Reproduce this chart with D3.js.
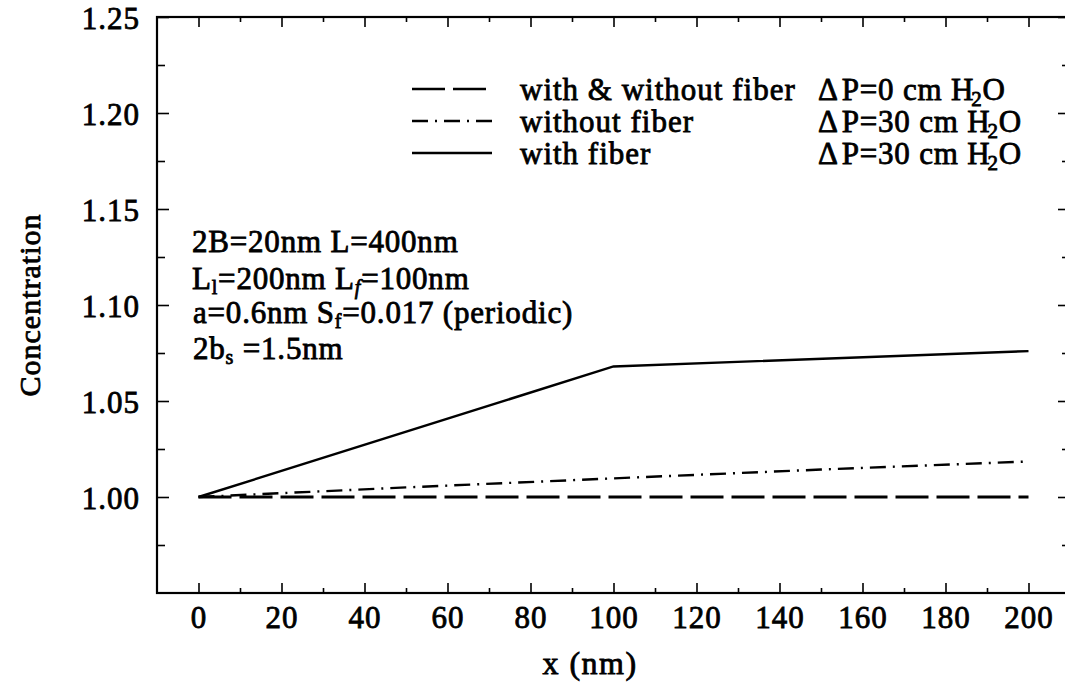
<!DOCTYPE html>
<html>
<head>
<meta charset="utf-8">
<script src="https://cdn.jsdelivr.net/npm/d3@7"></script>
<style>
  body { margin: 0; background: #fff; }
  svg text {
    font-family: "Liberation Serif", "Times New Roman", serif;
    fill: #000;
    stroke: #000;
    stroke-width: 0.8px;
  }
</style>
</head>
<body>
<svg id="chart" width="1065" height="685"></svg>
<script>
// ---- data ----
const xMajorTicks = [0, 20, 40, 60, 80, 100, 120, 140, 160, 180, 200];
const xMinorTicks = [10, 30, 50, 70, 90, 110, 130, 150, 170, 190];
const yMajorTicks = [1.00, 1.05, 1.10, 1.15, 1.20, 1.25];
const yMinorTicks = [0.975, 1.025, 1.075, 1.125, 1.175, 1.225];

// dP = 0 cm H2O, with and without fiber
const xBoth = [0, 200];
const cBoth = [1.000, 1.000];
// dP = 30 cm H2O, without fiber
const xNoFiber = [0, 50, 100, 150, 200];
const cNoFiber = [1.000, 1.005, 1.0097, 1.0143, 1.0185];
// dP = 30 cm H2O, with fiber
const xFiber = [0, 100, 200];
const cFiber = [1.000, 1.068, 1.076];

const legendLabels = ["with & without fiber", "without fiber", "with fiber"];
const legendPressure = [0, 30, 30];
const legendDash = ["33,8", "16,7,2,7", null];

// ---- layout ----
const svg = d3.select("#chart");
const plotL = 157, plotR = 1070, plotT = 17, plotB = 593;

const x = d3.scaleLinear().domain([-10, 210]).range([plotL, plotR]);
const y = d3.scaleLinear().domain([0.95, 1.25]).range([plotB, plotT]);

const FONT = 31;

// frame
svg.append("rect")
  .attr("x", plotL).attr("y", plotT)
  .attr("width", plotR - plotL).attr("height", plotB - plotT)
  .attr("fill", "none").attr("stroke", "#000").attr("stroke-width", 2.2);

function clean(g) {
  g.select(".domain").remove();
  g.selectAll(".tick line").attr("stroke", "#000").attr("stroke-width", 1.6);
}

// bottom axis with labels, ticks pointing inward
const gxb = svg.append("g").attr("transform", `translate(0,${plotB})`)
  .call(d3.axisBottom(x).tickValues(xMajorTicks).tickSize(-10).tickFormat(d3.format("d")))
  .call(clean);
gxb.selectAll("text")
  .attr("y", 35).attr("dy", null)
  .style("font-size", FONT + "px")
  .style("letter-spacing", "1px");
svg.append("g").attr("transform", `translate(0,${plotB})`)
  .call(d3.axisBottom(x).tickValues(xMinorTicks).tickSize(-5).tickFormat(""))
  .call(clean);

// top axis ticks
svg.append("g").attr("transform", `translate(0,${plotT})`)
  .call(d3.axisTop(x).tickValues(xMajorTicks).tickSize(-10).tickFormat(""))
  .call(clean);
svg.append("g").attr("transform", `translate(0,${plotT})`)
  .call(d3.axisTop(x).tickValues(xMinorTicks).tickSize(-5).tickFormat(""))
  .call(clean);

// left axis with labels
const gyl = svg.append("g").attr("transform", `translate(${plotL},0)`)
  .call(d3.axisLeft(y).tickValues(yMajorTicks).tickSize(-12).tickFormat(d3.format(".2f")))
  .call(clean);
gyl.selectAll("text")
  .attr("x", -17).attr("dy", "0.38em")
  .style("font-size", FONT + "px")
  .style("letter-spacing", "1px");
svg.append("g").attr("transform", `translate(${plotL},0)`)
  .call(d3.axisLeft(y).tickValues(yMinorTicks).tickSize(-8).tickFormat(""))
  .call(clean);

// right axis ticks
svg.append("g").attr("transform", `translate(${plotR},0)`)
  .call(d3.axisRight(y).tickValues(yMajorTicks).tickSize(-12).tickFormat(""))
  .call(clean);
svg.append("g").attr("transform", `translate(${plotR},0)`)
  .call(d3.axisRight(y).tickValues(yMinorTicks).tickSize(-8).tickFormat(""))
  .call(clean);

// axis titles
svg.append("text")
  .attr("x", 590).attr("y", 674)
  .attr("text-anchor", "middle")
  .style("font-size", "32px").style("letter-spacing", "1.5px")
  .text("x (nm)");
svg.append("text")
  .attr("transform", "translate(40,305) rotate(-90)")
  .attr("text-anchor", "middle")
  .style("font-size", "30px").style("letter-spacing", "1px")
  .text("Concentration");

// ---- curves ----
const line = d3.line().x(d => x(d[0])).y(d => y(d[1]));
const series = [
  { xs: xBoth, cs: cBoth, dash: legendDash[0], w: 2.8 },
  { xs: xNoFiber, cs: cNoFiber, dash: legendDash[1], w: 2.4 },
  { xs: xFiber, cs: cFiber, dash: legendDash[2], w: 2.4 }
];
series.forEach(s => {
  svg.append("path")
    .datum(s.xs.map((v, i) => [v, s.cs[i]]))
    .attr("d", line)
    .attr("fill", "none")
    .attr("stroke", "#000")
    .attr("stroke-width", s.w)
    .attr("stroke-dasharray", s.dash);
});

// ---- legend ----
const legRowY = [100, 132, 164];
legendLabels.forEach((lab, i) => {
  const by = legRowY[i];
  svg.append("line")
    .attr("x1", 412).attr("x2", i === 0 ? 486 : 492)
    .attr("y1", by - 11).attr("y2", by - 11)
    .attr("stroke", "#000").attr("stroke-width", 2.4)
    .attr("stroke-dasharray", legendDash[i]);
  svg.append("text")
    .attr("x", 520).attr("y", by)
    .style("font-size", FONT + "px").style("letter-spacing", "1px")
    .text(lab);
  const t = svg.append("text")
    .attr("x", 818).attr("y", by)
    .style("font-size", FONT + "px").style("letter-spacing", "0.8px");
  t.append("tspan").text("\u0394");
  t.append("tspan").attr("dx", 3).text(`P=${legendPressure[i]} cm H`);
  t.append("tspan").attr("dx", -3).attr("dy", 6).style("font-size", "21px").text("2");
  t.append("tspan").attr("dx", 0).attr("dy", -6).text("O");
});

// ---- parameter notes ----
const notes = svg.append("g").style("font-size", FONT + "px").style("letter-spacing", "0.8px");
notes.append("text").attr("x", 192).attr("y", 252).text("2B=20nm L=400nm");

const n2 = notes.append("text").attr("x", 192).attr("y", 289);
n2.append("tspan").text("L");
n2.append("tspan").attr("dy", 5).style("font-size", "20px").text("l");
n2.append("tspan").attr("dy", -5).text("=200nm L");
n2.append("tspan").attr("dy", 5).style("font-size", "20px").style("font-style", "italic").text("f");
n2.append("tspan").attr("dy", -5).text("=100nm");

const n3 = notes.append("text").attr("x", 193).attr("y", 323);
n3.append("tspan").text("a=0.6nm S");
n3.append("tspan").attr("dy", 5).style("font-size", "20px").text("f");
n3.append("tspan").attr("dy", -5).text("=0.017 (periodic)");

const n4 = notes.append("text").attr("x", 193).attr("y", 359);
n4.append("tspan").text("2b");
n4.append("tspan").attr("dy", 5).style("font-size", "20px").text("s");
n4.append("tspan").attr("dy", -5).text(" =1.5nm");
</script>
</body>
</html>
